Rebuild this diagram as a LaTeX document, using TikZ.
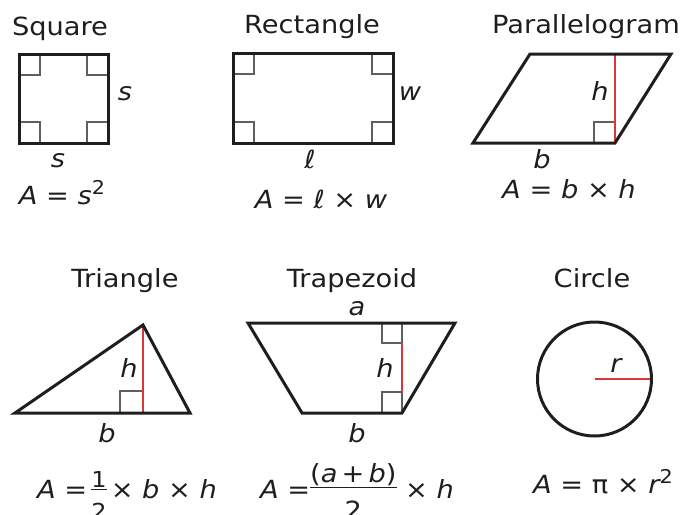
\documentclass[tikz,border=0pt]{standalone}
\usepackage{fontspec}
\setmainfont{DejaVu Sans}[FakeStretch=1.09]
\definecolor{redh}{RGB}{215,55,55}
\definecolor{ink}{RGB}{30,30,30}
\definecolor{grayra}{RGB}{95,95,95}
\newcommand\sqtwo{\raisebox{10pt}{\fontsize{19}{20}\selectfont 2}}
\newcommand\fracbox[3]{\begingroup\fontsize{#1}{#1}\selectfont
 \setbox0=\hbox{#2}\setbox2=\hbox{#3}%
 \ifdim\wd0>\wd2 \dimen0=\wd0 \else \dimen0=\wd2 \fi
 \lower21pt\vbox{\hbox to\dimen0{\hss\box0\hss}\kern1pt\hrule height 1.2pt\kern12.5pt\hbox to\dimen0{\hss\box2\hss}}%
 \endgroup}
\begin{document}
\begin{tikzpicture}[x=1pt,y=-1pt,
 outline/.style={line width=3pt,draw=ink,line join=miter},
 ra/.style={line width=1.8pt,draw=grayra},
 hgt/.style={line width=1.6pt,draw=redh},
 ttl/.style={font=\fontsize{25}{30}\selectfont,text=ink,inner sep=0pt,anchor=base},
 lbl/.style={font=\fontsize{25}{30}\selectfont\itshape,text=ink,inner sep=0pt,anchor=base},
 frm/.style={font=\fontsize{25}{30}\selectfont,text=ink,inner sep=0pt,anchor=base}]
\useasboundingbox (0,0) rectangle (685,514);

% ---------- Square ----------
\node[ttl] (tsq) at (60,35) {Square};
\draw[ra] (19,75) -- (40,75) -- (40,54);
\draw[ra] (87,54) -- (87,75) -- (108,75);
\draw[ra] (19,122) -- (40,122) -- (40,143);
\draw[ra] (87,143) -- (87,122) -- (108,122);
\coordinate (sqa) at (19,54); \coordinate (sqb) at (108,54);
\coordinate (sqc) at (108,143); \coordinate (sqd) at (19,143);
\draw[outline] (sqa) -- (sqb) -- (sqc) -- (sqd) -- cycle;
\node[lbl] (sqs1) at (125,100) {s};
\node[lbl] (sqs2) at (58,167) {s};
\node[frm] (fsq) at (62,204) {{\itshape A} = {\itshape s}\sqtwo};

% ---------- Rectangle ----------
\node[ttl] (trc) at (312,33) {Rectangle};
\draw[ra] (233,74) -- (254,74) -- (254,53);
\draw[ra] (372,53) -- (372,74) -- (393,74);
\draw[ra] (233,122) -- (254,122) -- (254,143);
\draw[ra] (372,143) -- (372,122) -- (393,122);
\coordinate (rca) at (233,53); \coordinate (rcb) at (393,53);
\coordinate (rcc) at (393,143); \coordinate (rcd) at (233,143);
\draw[outline] (rca) -- (rcb) -- (rcc) -- (rcd) -- cycle;
\node[lbl] (rcw) at (410,100) {w};
\node[lbl] (rcl) at (310,168) {ℓ};
\node[frm] (frc) at (321,208) {{\itshape A} = {\itshape ℓ} × {\itshape w}};

% ---------- Parallelogram ----------
\node[ttl] (tpg) at (586,33) {Parallelogram};
\draw[ra] (594,143) -- (594,122) -- (615,122);
\coordinate (pgh) at (615,54); \coordinate (pgf) at (615,143);
\draw[hgt] (pgh) -- (pgf);
\coordinate (pga) at (530,54); \coordinate (pgb) at (671,54);
\coordinate (pgc) at (615,143); \coordinate (pgd) at (473,143);
\draw[outline] (pga) -- (pgb) -- (pgc) -- (pgd) -- cycle;
\node[lbl] (pgh1) at (600,100) {h};
\node[lbl] (pgb1) at (542,168) {b};
\node[frm] (fpg) at (569,198) {{\itshape A} = {\itshape b} × {\itshape h}};

% ---------- Triangle ----------
\node[ttl] (ttr) at (125,287) {Triangle};
\draw[ra] (120,413) -- (120,391) -- (143,391);
\coordinate (tra) at (15,413); \coordinate (trb) at (190,413);
\coordinate (trc) at (143,325); \coordinate (trf) at (143,413);
\draw[hgt] (trc) -- (trf);
\draw[outline] (tra) -- (trb) -- (trc) -- cycle;
\node[lbl] (trh) at (129,377) {h};
\node[lbl] (trbl) at (107,442) {b};
\node[frm] (ftr) at (127,498) {{\itshape A} =\,\fracbox{22}{1}{2}\,× {\itshape b} × {\itshape h}};

% ---------- Trapezoid ----------
\node[ttl] (ttz) at (352,287) {Trapezoid};
\draw[ra] (382,323) rectangle (402,343);
\draw[ra] (382,413) -- (382,392) -- (402,392) -- (402,413);
\coordinate (tzh1) at (402,343); \coordinate (tzh2) at (402,392);
\draw[hgt] (tzh1) -- (tzh2);
\coordinate (tza) at (248,323); \coordinate (tzb) at (455,323);
\coordinate (tzc) at (402,413); \coordinate (tzd) at (302,413);
\draw[outline] (tza) -- (tzb) -- (tzc) -- (tzd) -- cycle;
\node[lbl] (tzal) at (357,315) {a};
\node[lbl] (tzhl) at (385,377) {h};
\node[lbl] (tzbl) at (357,442) {b};
\node[frm] (ftz) at (357,498) {{\itshape A} =\fracbox{25}{({\itshape a}\,+\,{\itshape b})}{2} × {\itshape h}};

% ---------- Circle ----------
\node[ttl] (tci) at (592,287) {Circle};
\coordinate (cio) at (594.5,379); \coordinate (cir) at (651.5,379);
\draw[hgt] (cio) -- (cir);
\draw[outline] (cio) circle[radius=57];
\node[lbl] (cirl) at (616,372) {r};
\node[frm] (fci) at (603,493) {{\itshape A} = π × {\itshape r}\sqtwo};
\end{tikzpicture}
\end{document}
